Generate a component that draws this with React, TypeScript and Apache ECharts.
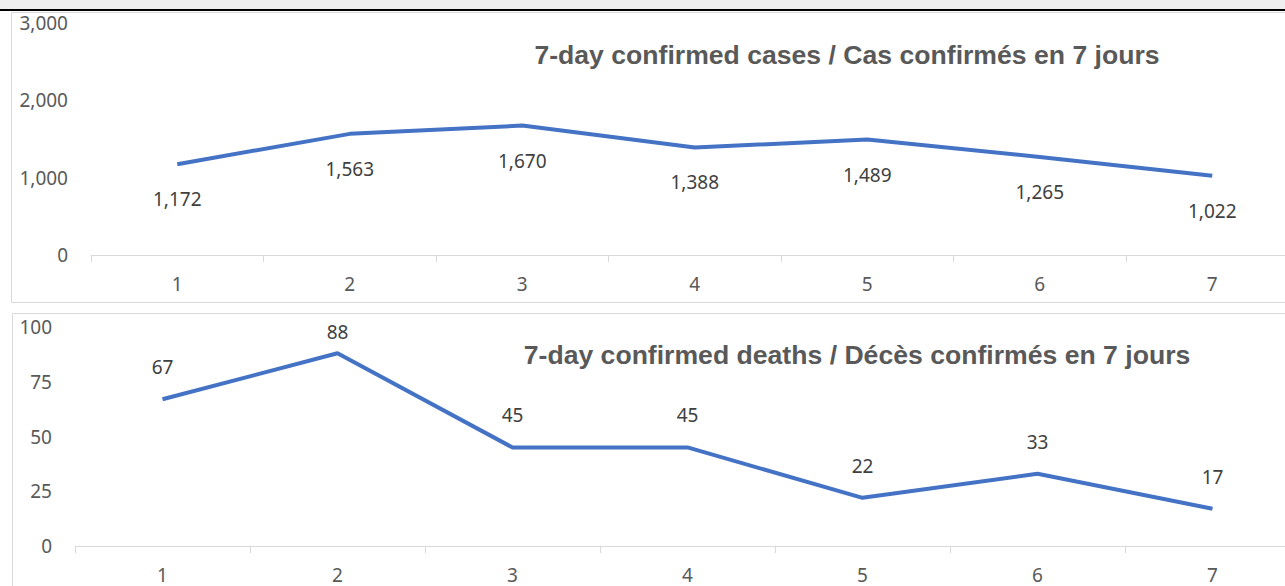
import React, { useEffect, useRef } from "react";
import * as echarts from "echarts";

const days = ["1", "2", "3", "4", "5", "6", "7"];
const cases = [1172, 1563, 1670, 1388, 1489, 1265, 1022];
const deaths = [67, 88, 45, 45, 22, 33, 17];
const casesTitle = "7-day confirmed cases / Cas confirmés en 7 jours";
const deathsTitle = "7-day confirmed deaths / Décès confirmés en 7 jours";

const BLUE = "#4472C4";
const AXIS_TEXT = "#595959";
const LABEL_TEXT = "#404040";
const BORDER = "#d9d9d9";
const FONT = "'Noto Sans', 'Open Sans', sans-serif";
const TITLE_FONT = "'Liberation Sans Narrow', 'Liberation Sans', Arial, sans-serif";

const fmt = (v: number) => v.toLocaleString("en-US");

export default function App() {
  const ref = useRef<HTMLDivElement>(null);
  useEffect(() => {
    if (!ref.current) return;
    const chart = echarts.init(ref.current, undefined, { renderer: "svg" });
    const xAxisCommon = {
      type: "category" as const,
      data: days,
      boundaryGap: true,
      axisLine: { lineStyle: { color: BORDER, width: 1 } },
      axisTick: { show: true, inside: false, length: 7, lineStyle: { color: BORDER } },
      axisLabel: { color: AXIS_TEXT, fontSize: 19, fontFamily: FONT, margin: 19 },
      splitLine: { show: false },
    };
    const yAxisCommon = {
      type: "value" as const,
      axisLine: { show: false },
      axisTick: { show: false },
      splitLine: { show: false },
    };
    const lineSeries = {
      type: "line" as const,
      symbol: "circle",
      symbolSize: 1,
      showSymbol: true,
      itemStyle: { color: "rgba(0,0,0,0)" },
      lineStyle: { color: BLUE, width: 4 },
    };
    const deathData = deaths.map((v) =>
      v === Math.max(...deaths) ? { value: v, label: { distance: 11 } } : v
    );
    chart.setOption({
      animation: false,
      backgroundColor: "#ffffff",
      graphic: [
        { type: "rect", shape: { x: 0, y: 0, width: 1320, height: 9 }, style: { fill: "#efefef" }, silent: true },
        { type: "rect", shape: { x: 0, y: 9, width: 1320, height: 2 }, style: { fill: "#000000" }, silent: true },
        { type: "rect", shape: { x: 11.5, y: 12.5, width: 1300, height: 290 }, style: { fill: "none", stroke: BORDER, lineWidth: 1 }, silent: true },
        { type: "rect", shape: { x: 12.5, y: 313.5, width: 1300, height: 290 }, style: { fill: "none", stroke: BORDER, lineWidth: 1 }, silent: true },
      ],
      title: [
        {
          text: casesTitle,
          left: 842,
          top: 36,
          textAlign: "center",
          textStyle: { fontFamily: TITLE_FONT, fontWeight: "bold", fontSize: 26.6, color: AXIS_TEXT },
        },
        {
          text: deathsTitle,
          left: 852,
          top: 336,
          textAlign: "center",
          textStyle: { fontFamily: TITLE_FONT, fontWeight: "bold", fontSize: 26.6, color: AXIS_TEXT },
        },
      ],
      grid: [
        { left: 91, width: 1207.5, top: 22.5, height: 232.5, containLabel: false },
        { left: 75, width: 1225, top: 327, height: 219, containLabel: false },
      ],
      xAxis: [
        { ...xAxisCommon, gridIndex: 0 },
        { ...xAxisCommon, gridIndex: 1 },
      ],
      yAxis: [
        {
          ...yAxisCommon,
          gridIndex: 0,
          min: 0,
          max: 3000,
          interval: 1000,
          axisLabel: { color: AXIS_TEXT, fontSize: 19, fontFamily: FONT, margin: 23, formatter: (v: number) => fmt(v) },
        },
        {
          ...yAxisCommon,
          gridIndex: 1,
          min: 0,
          max: 100,
          interval: 25,
          axisLabel: { color: AXIS_TEXT, fontSize: 19, fontFamily: FONT, margin: 23 },
        },
      ],
      series: [
        {
          ...lineSeries,
          xAxisIndex: 0,
          yAxisIndex: 0,
          data: cases,
          label: {
            show: true,
            position: "bottom",
            distance: 25,
            color: LABEL_TEXT,
            fontSize: 19,
            fontFamily: FONT,
            formatter: (p: any) => fmt(p.value),
          },
        },
        {
          ...lineSeries,
          xAxisIndex: 1,
          yAxisIndex: 1,
          data: deathData,
          label: {
            show: true,
            position: "top",
            distance: 22,
            color: LABEL_TEXT,
            fontSize: 19,
            fontFamily: FONT,
          },
        },
      ],
    });
    return () => chart.dispose();
  }, []);
  return (
    <div
      ref={ref}
      style={{ position: "fixed", left: 0, top: 0, width: 1320, height: 586, overflow: "hidden", background: "#fff" }}
    />
  );
}
